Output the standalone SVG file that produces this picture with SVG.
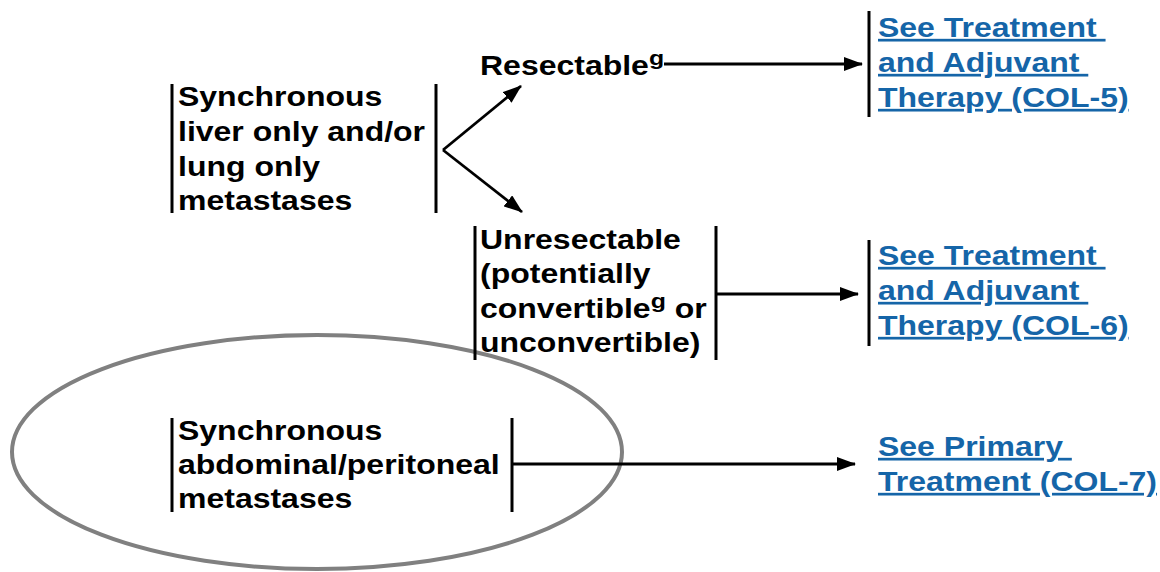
<svg xmlns="http://www.w3.org/2000/svg" width="1160" height="572" viewBox="0 0 1160 572">
<style>
.t{font-family:"Liberation Sans",Arial,sans-serif;font-weight:bold;font-size:27px;fill:#000}
.lk{font-family:"Liberation Sans",Arial,sans-serif;font-weight:bold;font-size:27px;fill:#1565a8;text-decoration:underline;white-space:pre}
.sup{font-size:21px}
.bar{stroke:#000;stroke-width:3;fill:none}
.ar{stroke:#000;stroke-width:2.8;fill:none;marker-end:url(#ah)}
</style>
<defs>
<marker id="ah" markerWidth="20" markerHeight="14" refX="18" refY="7" orient="auto" markerUnits="userSpaceOnUse">
<path d="M0,0 L19,7 L0,14 Z" fill="#000"/>
</marker>
</defs>
<rect width="1160" height="572" fill="#fff"/>
<ellipse id="highlight" cx="317" cy="452" rx="305" ry="117" fill="none" stroke="#808080" stroke-width="4"/>
<g id="node-liver-lung">
<line class="bar" x1="172" y1="84" x2="172" y2="213"/>
<line class="bar" x1="436" y1="84" x2="436" y2="213"/>
<g transform="translate(178 0) scale(1.185 1)">
<text class="t" y="106">Synchronous</text>
<text class="t" y="141">liver only and/or</text>
<text class="t" y="176">lung only</text>
<text class="t" y="210">metastases</text>
</g>
</g>
<g id="node-resectable">
<g transform="translate(480 0) scale(1.185 1)">
<text class="t" y="75">Resectable<tspan class="sup" dy="-10">g</tspan></text>
</g>
</g>
<g id="node-unresectable">
<line class="bar" x1="475" y1="226" x2="475" y2="360"/>
<line class="bar" x1="716" y1="226" x2="716" y2="360"/>
<g transform="translate(480 0) scale(1.185 1)">
<text class="t" y="249">Unresectable</text>
<text class="t" y="283">(potentially</text>
<text class="t" y="318">convertible<tspan class="sup" dy="-10">g</tspan><tspan dy="10"> or</tspan></text>
<text class="t" y="352">unconvertible)</text>
</g>
</g>
<g id="node-peritoneal">
<line class="bar" x1="172" y1="418" x2="172" y2="512"/>
<line class="bar" x1="512" y1="418" x2="512" y2="512"/>
<g transform="translate(178 0) scale(1.185 1)">
<text class="t" y="440">Synchronous</text>
<text class="t" y="474">abdominal/peritoneal</text>
<text class="t" y="508">metastases</text>
</g>
</g>
<g id="link-col5">
<line class="bar" x1="869" y1="11" x2="869" y2="117"/>
<g transform="translate(878 0) scale(1.185 1)">
<text class="lk" y="37">See Treatment </text>
<text class="lk" y="72">and Adjuvant </text>
<text class="lk" y="107">Therapy (COL-5)</text>
</g>
</g>
<g id="link-col6">
<line class="bar" x1="869" y1="240" x2="869" y2="346"/>
<g transform="translate(878 0) scale(1.185 1)">
<text class="lk" y="265">See Treatment </text>
<text class="lk" y="300">and Adjuvant </text>
<text class="lk" y="335">Therapy (COL-6)</text>
</g>
</g>
<g id="link-col7">
<g transform="translate(878 0) scale(1.185 1)">
<text class="lk" y="456">See Primary </text>
<text class="lk" y="491">Treatment (COL-7)</text>
</g>
</g>
<g id="connectors">
<line class="ar" x1="443" y1="150" x2="521" y2="86"/>
<line class="ar" x1="443" y1="150" x2="522" y2="212"/>
<line class="ar" x1="664" y1="64" x2="862" y2="64"/>
<line class="ar" x1="716" y1="294" x2="858" y2="294"/>
<line class="ar" x1="512" y1="464" x2="855" y2="464"/>
</g>
</svg>
